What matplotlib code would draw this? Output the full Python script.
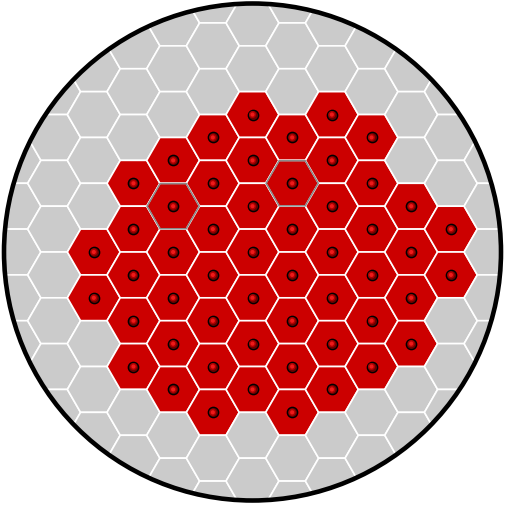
import numpy as np
import matplotlib
matplotlib.use("Agg")
import matplotlib.pyplot as plt
from matplotlib.patches import RegularPolygon, Circle

# Data: active (red) cells as (column, half-row) in a flat-top hex grid
red_cols = [-4, -4,
            -3, -3, -3, -3, -3,
            -2, -2, -2, -2, -2, -2,
            -1, -1, -1, -1, -1, -1, -1,
            0, 0, 0, 0, 0, 0, 0,
            1, 1, 1, 1, 1, 1, 1,
            2, 2, 2, 2, 2, 2, 2,
            3, 3, 3, 3, 3, 3,
            4, 4, 4, 4,
            5, 5]
red_rows = [0, 2,
            -3, -1, 1, 3, 5,
            -4, -2, 0, 2, 4, 6,
            -5, -3, -1, 1, 3, 5, 7,
            -6, -4, -2, 0, 2, 4, 6,
            -5, -3, -1, 1, 3, 5, 7,
            -6, -4, -2, 0, 2, 4, 6,
            -5, -3, -1, 1, 3, 5,
            -2, 0, 2, 4,
            -1, 1]
highlight_cols = [-2, 1]
highlight_rows = [-2, -3]

px = 26.45  # pixels per hex radius
W, H = 505, 506
R = 248.5 / px

fig = plt.figure(figsize=(W / 100, H / 100), dpi=100)
ax = fig.add_axes([0, 0, 1, 1])
ax.set_xlim(-252.5 / px, 252.5 / px)
ax.set_ylim(-253 / px, 253 / px)
ax.set_aspect("equal")
ax.axis("off")

def center(k, h):
    return 1.5 * k, -np.sqrt(3) / 2 * h

clip = Circle((0, 0), R, transform=ax.transData)
red_set = set(zip(red_cols, red_rows))

for k in range(-8, 9):
    for h in range(-14, 15):
        if (h - k) % 2 != 0:
            continue
        cx, cy = center(k, h)
        if np.hypot(cx, cy) > R + 1.2:
            continue
        fc = "#cc0000" if (k, h) in red_set else "#cbcbcb"
        p = RegularPolygon((cx, cy), 6, radius=1.0, orientation=np.pi / 6,
                           facecolor=fc, edgecolor="white", linewidth=1.2, zorder=1)
        p.set_clip_path(clip)
        ax.add_patch(p)

for k, h in zip(highlight_cols, highlight_rows):
    cx, cy = center(k, h)
    p = RegularPolygon((cx, cy), 6, radius=0.985, orientation=np.pi / 6,
                       facecolor="none", edgecolor="#8a8a8a", linewidth=1.1, zorder=2)
    ax.add_patch(p)

xs = [center(k, h)[0] for k, h in zip(red_cols, red_rows)]
ys = [center(k, h)[1] for k, h in zip(red_cols, red_rows)]
ax.scatter(xs, ys, s=55, c="#6a0000", edgecolors="black", linewidths=1.0, zorder=3)
ax.scatter(xs, ys, s=26, c="#b00000", edgecolors="none", zorder=4)
ax.scatter(xs, ys, s=9, c="#ee1a1a", edgecolors="none", zorder=5)

ax.add_patch(Circle((0, 0), R, facecolor="none", edgecolor="black", linewidth=3.3, zorder=6))

fig.savefig("out.png", dpi=100)
